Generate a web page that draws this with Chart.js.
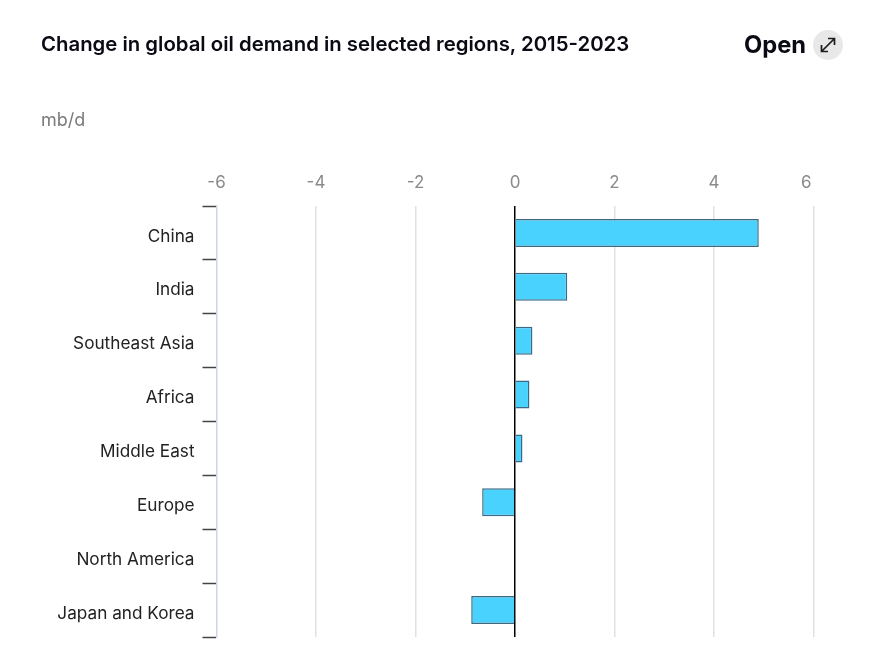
<!DOCTYPE html>
<html>
<head>
<meta charset="utf-8">
<script src="https://cdn.jsdelivr.net/npm/chart.js@4"></script>
<style>
  html, body { margin:0; padding:0; background:#fff; overflow:hidden; }
  body { width:873px; height:666px; position:relative; font-family:Inter, sans-serif; }
  #chart { position:absolute; left:0; top:0; }
  .title { position:absolute; left:41px; top:30px; font-size:20.35px; font-weight:600; line-height:28px; color:#0a0a14; white-space:nowrap; }
  .unit { position:absolute; left:41px; top:109px; font-size:18px; line-height:22px; color:#7a7a7a; }
  .open { position:absolute; left:744px; top:29px; font-size:23.7px; font-weight:700; line-height:32px; color:#0a0a14; }
  .badge { position:absolute; left:813px; top:30px; width:30px; height:30px; border-radius:50%; background:#e8e8e8; }
</style>
</head>
<body>
<canvas id="chart" width="873" height="666"></canvas>
<div class="title">Change in global oil demand in selected regions, 2015-2023</div>
<div class="unit">mb/d</div>
<div class="open">Open</div>
<div class="badge">
  <svg width="30" height="30" viewBox="0 0 30 30" fill="none" stroke="#1c1c1c" stroke-width="1.7">
    <path d="M8.5 21.5 L21 9 M15 8.5 H21.5 V15 M8.5 15 V21.5 H15"/>
  </svg>
</div>
<script>
const categories = ['China','India','Southeast Asia','Africa','Middle East','Europe','North America','Japan and Korea'];
const demandChange = [4.9, 1.05, 0.35, 0.29, 0.15, -0.66, 0, -0.88];
const xTicks = [-6,-4,-2,0,2,4,6];

new Chart(document.getElementById('chart'), {
  type: 'bar',
  data: {
    labels: categories,
    datasets: [{
      data: demandChange,
      backgroundColor: '#4ad2ff',
      borderColor: '#3b6a82',
      borderWidth: 1.5,
      borderSkipped: 'start',
      categoryPercentage: 1,
      barPercentage: 0.52,
    }]
  },
  options: {
    indexAxis: 'y',
    responsive: false,
    animation: false,
    layout: { padding: { left:0, right:59.5, top:0, bottom:29 } },
    plugins: { legend:{ display:false }, tooltip:{ enabled:false } },
    scales: {
      x: {
        position: 'top',
        min: -6,
        max: 6,
        afterBuildTicks: s => { s.ticks = xTicks.map(v => ({ value:v })); },
        afterFit: s => { s.height = 206; },
        border: { display:false },
        grid: {
          color: c => c.tick.value === 0 ? '#000' : (c.tick.value === -6 ? 'rgba(0,0,0,0)' : '#dfe1e4'),
          lineWidth: 1.5,
          drawTicks: false,
        },
        ticks: {
          color: '#8a8a8a',
          font: { family:'Inter', size:17 },
          padding: 13,
          maxRotation: 0,
          // last label sits left of its gridline in the original
          callback: v => v === 6 ? '6   ' : String(v),
        },
      },
      y: {
        offset: true,
        afterFit: s => { s.width = 216.5; },
        border: { color:'#cdd5e6', width:1.5 },
        grid: {
          offset: true,
          drawOnChartArea: false,
          tickLength: 14,
          tickColor: '#444',
          tickWidth: 1.5,
        },
        ticks: {
          color: '#222',
          font: { family:'Inter', size:17.2 },
          padding: 8,
          labelOffset: 3.5,
        },
      },
    },
  },
});
</script>
</body>
</html>
